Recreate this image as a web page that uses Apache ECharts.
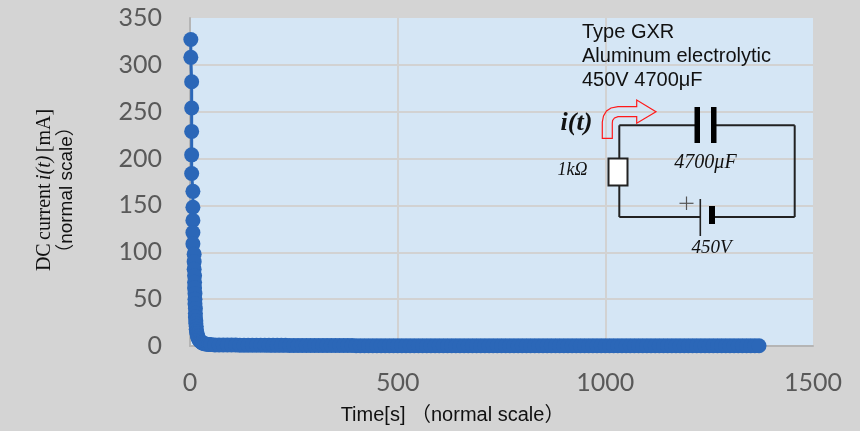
<!DOCTYPE html>
<html>
<head>
<meta charset="utf-8">
<style>html,body{margin:0;padding:0;background:#d4d4d4}#c{width:860px;height:431px}</style>
<script src="https://cdn.jsdelivr.net/npm/echarts@6/dist/echarts.min.js"></script>
</head>
<body>
<div id="c"></div>
<script>
const xTicks = [0, 500, 1000, 1500];
const yTicks = [0, 50, 100, 150, 200, 250, 300, 350];
const timeEarly = [2,2,4,4,4,4,4,7,7,7,7,7,10,10,10,11,11,11,12,12,12,13,13,13,14,14,15,15,16,17,18,19,20,22,24,26,28,30,33,36,40,45,50,60];
const currentEarly = [327,308,282,254,229,204,184,165,148,134,121,109,98,90,82,75,68,62,56,50,45,40,35,31,27,24,21,18,15,13,11,9.5,8,6.5,5.5,4.5,3.8,3.2,2.7,2.3,2,1.7,1.5,1.2];
const timeTail = [70,80,90,100,110,120,130,140,150,160,170,180,190,200,210,220,230,240,250,260,270,280,290,300,310,320,330,340,350,360,370,380,390,400,410,420,430,440,450,460,470,480,490,500,510,520,530,540,550,560,570,580,590,600,610,620,630,640,650,660,670,680,690,700,710,720,730,740,750,760,770,780,790,800,810,820,830,840,850,860,870,880,890,900,910,920,930,940,950,960,970,980,990,1000,1010,1020,1030,1040,1050,1060,1070,1080,1090,1100,1110,1120,1130,1140,1150,1160,1170,1180,1190,1200,1210,1220,1230,1240,1250,1260,1270,1280,1290,1300,1310,1320,1330,1340,1350,1360,1370];
const currentTail = [1.1,1.1,1,1,1,0.9,0.9,0.9,0.9,0.8,0.8,0.8,0.7,0.7,0.7,0.7,0.7,0.6,0.6,0.6,0.6,0.6,0.6,0.5,0.5,0.5,0.5,0.5,0.5,0.5,0.5,0.5,0.5,0.4,0.4,0.4,0.4,0.4,0.4,0.4,0.4,0.4,0.4,0.4,0.4,0.4,0.4,0.4,0.4,0.3,0.3,0.3,0.3,0.3,0.3,0.3,0.3,0.3,0.3,0.3,0.3,0.3,0.3,0.3,0.3,0.3,0.3,0.3,0.3,0.3,0.3,0.3,0.3,0.3,0.3,0.3,0.3,0.3,0.3,0.3,0.3,0.3,0.3,0.3,0.3,0.3,0.3,0.3,0.3,0.3,0.3,0.3,0.3,0.3,0.3,0.3,0.3,0.2,0.2,0.2,0.2,0.2,0.2,0.2,0.2,0.2,0.2,0.2,0.2,0.2,0.2,0.2,0.2,0.2,0.2,0.2,0.2,0.2,0.2,0.2,0.2,0.2,0.2,0.2,0.2,0.2,0.2,0.2,0.2,0.2,0.2];
const infoLines = ['Type GXR', 'Aluminum electrolytic', '450V 4700μF'];

const points = timeEarly.concat(timeTail).map((t, i) => [t, currentEarly.concat(currentTail)[i]]);
const BLUE = '#2b67b8', WIRE = '#222', SERIF = '"Liberation Serif","DejaVu Serif",serif', SANS = '"Liberation Sans","Noto Sans CJK JP",sans-serif';

function line(x1, y1, x2, y2, w, col) {
  return {type:'line', z:100, shape:{x1,y1,x2,y2}, style:{stroke:col||WIRE, lineWidth:w||1.6}};
}
function bar(x, y, width, height) {
  return {type:'rect', z:100, shape:{x,y,width,height}, style:{fill:'#000'}};
}
function label(text, x, y, font, fill, align) {
  return {type:'text', z:100, x, y, style:{text, font, fill:fill||'#111', align:align||'center', verticalAlign:'middle'}};
}
const chart = echarts.init(document.getElementById('c'), null, {renderer:'canvas'});
chart.setOption({
  animation:false,
  backgroundColor:'#d4d4d4',
  grid:{left:190, right:47, top:18, bottom:85, outerBoundsMode:'none', show:true, backgroundColor:'#d5e6f5', borderWidth:0},
  xAxis:{
    type:'value', min:xTicks[0], max:xTicks[3], interval:500,
    axisLine:{show:true, onZero:false, lineStyle:{color:'#b5b5b5', width:2}},
    axisTick:{show:false},
    axisLabel:{color:'#595959', fontFamily:'Lato', fontSize:25, margin:24, formatter:v => String(v)},
    splitLine:{show:true, showMinLine:false, showMaxLine:false, lineStyle:{color:'#d2d2d2', width:2}},
    name:'Time[s] （normal scale）', nameLocation:'middle', nameGap:59,
    nameTextStyle:{color:'#111', fontFamily:SANS, fontSize:20, padding:[0,98,0,0]}
  },
  yAxis:{
    type:'value', min:yTicks[0], max:yTicks[7], interval:50,
    axisLine:{show:true, lineStyle:{color:'#b5b5b5', width:2}},
    axisTick:{show:false},
    axisLabel:{color:'#595959', fontFamily:'Lato', fontSize:25, margin:28, formatter:v => String(v)},
    splitLine:{show:true, showMinLine:false, showMaxLine:false, lineStyle:{color:'#d2d2d2', width:2}},
    name:'{a|DC} {b|current} {c|i(t)} {a|[mA]}\n{d|（normal scale）}',
    nameLocation:'middle', nameRotate:90, nameGap:112,
    nameTextStyle:{
      padding:[0,16,0,0],
      rich:{
        a:{fontFamily:SERIF, fontSize:20, color:'#111', lineHeight:22},
        b:{fontFamily:SERIF, fontSize:20, color:'#111', lineHeight:22},
        c:{fontFamily:SERIF, fontSize:20, fontStyle:'italic', color:'#111', lineHeight:22},
        d:{fontFamily:SANS, fontSize:19, color:'#111', lineHeight:22}
      }
    }
  },
  series:[{
    type:'line', data:points, clip:false, showSymbol:true, showAllSymbol:true,
    symbol:'circle', symbolSize:15,
    lineStyle:{color:BLUE, width:3},
    itemStyle:{color:BLUE, borderWidth:0}
  }],
  graphic:[
    label(infoLines[0], 582, 32, '20px '+SANS, '#111', 'left'),
    label(infoLines[1], 582, 56, '20px '+SANS, '#111', 'left'),
    label(infoLines[2], 582, 80, '20px '+SANS, '#111', 'left'),
    {type:'polygon', z:100, shape:{points:[[602.3,138.3],[602.3,122],[603.5,116],[606.5,111],[611,108],[618,106.7],[636.7,106.7],[636.7,100],[656,111.7],[636.7,123.3],[636.7,116.7],[618,116.7],[614.5,118],[612.6,120.5],[612.3,123.3],[612.3,138.3]]}, style:{fill:'none', stroke:'#ff1a1a', lineWidth:1.2}},
    line(619.3,125.3,698,125.3,2), line(712,125.3,794.7,125.3,2),
    line(794.7,125.3,794.7,217,2), line(619.3,125.3,619.3,217,2),
    line(619.3,217,700,217,2), line(712,217,794.7,217,2),
    bar(694.5,107,5.5,36), bar(711,107,5.5,36),
    {type:'rect', z:100, shape:{x:608.5,y:158.5,width:19,height:27}, style:{fill:'#fff', stroke:WIRE, lineWidth:2}},
    line(700.3,199,700.3,236,1.6), bar(709,206,6,18),
    line(679.5,203.3,693.5,203.3,1.2,'#555'), line(686.5,196.5,686.5,210,1.2,'#555'),
    label('i(t)', 576.5, 123, 'italic bold 26px '+SERIF),
    label('1kΩ', 572.5, 170, 'italic 18px '+SERIF),
    label('4700μF', 705.5, 163, 'italic 20px '+SERIF),
    label('450V', 711.5, 248, 'italic 19px '+SERIF)
  ]
});
</script>
</body>
</html>
